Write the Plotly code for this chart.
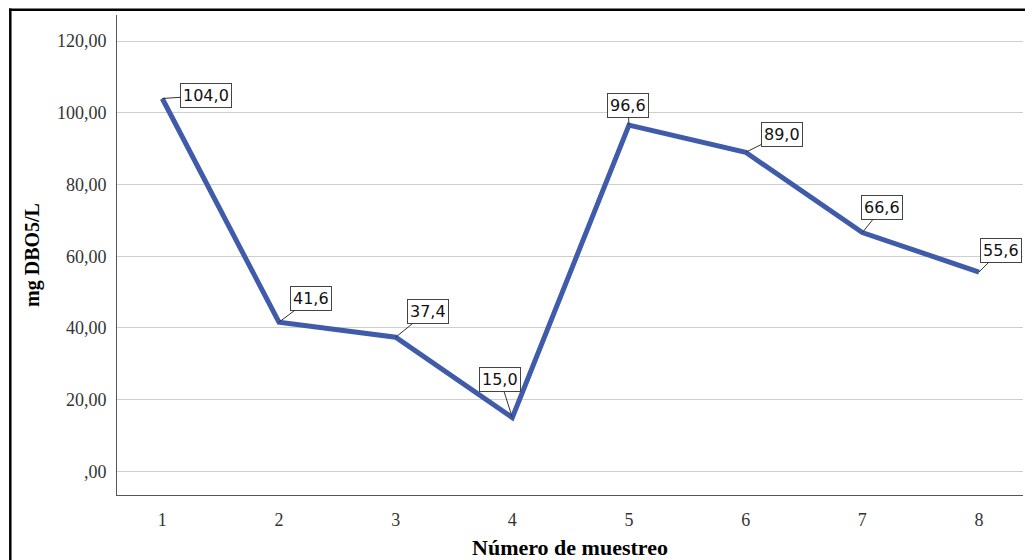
import plotly.graph_objects as go

muestreo = [1, 2, 3, 4, 5, 6, 7, 8]
dbo5 = [104.0, 41.6, 37.4, 15.0, 96.6, 89.0, 66.6, 55.6]
etiquetas = ["104,0", "41,6", "37,4", "15,0", "96,6", "89,0", "66,6", "55,6"]
y_tickvals = [0, 20, 40, 60, 80, 100, 120]
y_ticktext = [",00", "20,00", "40,00", "60,00", "80,00", "100,00", "120,00"]
# label offsets (pixels) of the callout boxes
label_ax = [44, 32, 32, -12, -1, 36, 20, 22]
label_ay = [-3, -24, -26, -38, -20, -18, -25, -22]

W, H = 1025, 560
L, R, T, B = 117, 2, 15, 63
pw, ph = W - L - R, H - T - B

fig = go.Figure()
fig.add_trace(go.Scatter(
    x=muestreo, y=dbo5, mode="lines",
    line=dict(color="#3F5BA9", width=5),
    hoverinfo="x+y", showlegend=False,
))

for xv, yv, t, ax, ay in zip(muestreo, dbo5, etiquetas, label_ax, label_ay):
    fig.add_annotation(
        x=xv, y=yv, text=t, showarrow=True, arrowhead=0, arrowwidth=1,
        arrowcolor="#333333", ax=ax, ay=ay, standoff=0,
        font=dict(family="DejaVu Sans", size=16, color="#111111"),
        bgcolor="white", bordercolor="#444444", borderwidth=1, borderpad=2,
    )

# outer frame (left and top edges visible)
def px(xp):
    return (xp - L) / pw

def py(yp):
    return (H - B - yp) / ph

fig.add_shape(type="line", xref="paper", yref="paper",
              x0=px(10.3), x1=px(10.3), y0=py(8.5), y1=py(565),
              line=dict(color="black", width=2.5))
fig.add_shape(type="line", xref="paper", yref="paper",
              x0=px(9), x1=px(1030), y0=py(9.7), y1=py(9.7),
              line=dict(color="black", width=2.5))

fig.update_layout(
    width=W, height=H,
    margin=dict(l=L, r=R, t=T, b=B),
    paper_bgcolor="white", plot_bgcolor="white",
    xaxis=dict(
        range=[0.612, 8.377], tickvals=muestreo,
        ticktext=[str(m) for m in muestreo],
        showgrid=False, zeroline=False, showline=True,
        linecolor="#555555", linewidth=1, ticks="",
        tickfont=dict(family="Liberation Serif", size=18, color="#333333"),
        ticklabelstandoff=8,
        title=dict(text="<b>Número de muestreo</b>",
                   font=dict(family="Liberation Serif", size=22, color="black"),
                   standoff=13),
    ),
    yaxis=dict(
        range=[-6.6, 127.3], tickvals=y_tickvals, ticktext=y_ticktext,
        showgrid=True, gridcolor="#cfcfcf", gridwidth=1,
        zeroline=False, showline=True, linecolor="#555555", linewidth=1,
        ticks="",
        tickfont=dict(family="Liberation Serif", size=18, color="#333333"),
        ticklabelstandoff=6,
        title=dict(text="<b>mg DBO5/L</b>",
                   font=dict(family="Liberation Serif", size=20, color="black"),
                   standoff=11),
    ),
)

fig.write_html("out.html", config={"displayModeBar": False},
               post_script="document.body.style.margin='0';document.body.style.overflow='hidden';")
